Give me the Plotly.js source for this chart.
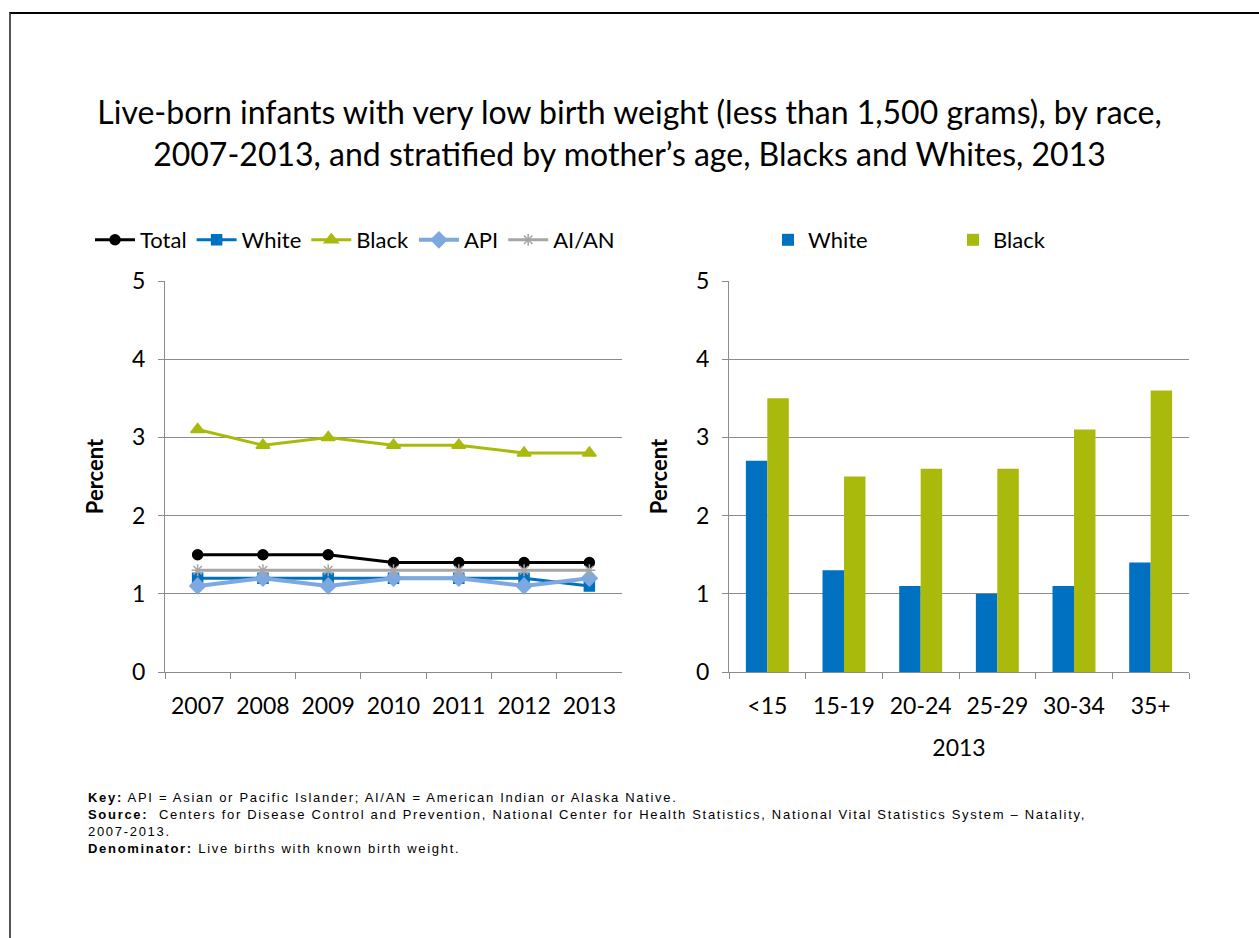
<!DOCTYPE html>
<html>
<head>
<meta charset="utf-8">
<script src="https://cdn.plot.ly/plotly-3.0.1.min.js"></script>
<style>
  html, body { margin: 0; padding: 0; background: #fff; }
  #wrap { position: relative; width: 1259px; height: 938px; overflow: hidden; }
  #chart { position: absolute; left: 0; top: 0; width: 1259px; height: 938px; }
  #frame { position: absolute; left: 9px; top: 12px; width: 1260px; height: 940px;
           border-top: 2px solid #000; border-left: 2px solid #555; pointer-events: none; }
  #chart .annotation-text { letter-spacing: 1.7px; }
</style>
</head>
<body>
<div id="wrap"><div id="chart"></div><div id="frame"></div></div>
<script>
// ---- data ----
const years = ["2007", "2008", "2009", "2010", "2011", "2012", "2013"];
const totalVals = [1.5, 1.5, 1.5, 1.4, 1.4, 1.4, 1.4];
const whiteVals = [1.2, 1.2, 1.2, 1.2, 1.2, 1.2, 1.1];
const blackVals = [3.1, 2.9, 3.0, 2.9, 2.9, 2.8, 2.8];
const apiVals   = [1.1, 1.2, 1.1, 1.2, 1.2, 1.1, 1.2];
const aianVals  = [1.3, 1.3, 1.3, 1.3, 1.3, 1.3, 1.3];

const ageGroups = ["<15", "15-19", "20-24", "25-29", "30-34", "35+"];
const whiteAge = [2.7, 1.3, 1.1, 1.0, 1.1, 1.4];
const blackAge = [3.5, 2.5, 2.6, 2.6, 3.1, 3.6];

const FONT = "Lato, 'Open Sans', sans-serif";
const C_WHITE = "#0070C0", C_BLACK = "#A9BA0C", C_API = "#7DA8E0", C_AIAN = "#A6A6A6";

function line(name, y, color, symbol, size, width) {
  return {
    type: "scatter", mode: "lines+markers", name: name, x: years, y: y,
    xaxis: "x", yaxis: "y", legend: "legend",
    line: { color: color, width: width },
    marker: { symbol: symbol, size: size, color: color, line: { color: color, width: 1.5 } }
  };
}

const traces = [
  line("Total", totalVals, "#000000", "circle", 10, 3),
  line("White", whiteVals, C_WHITE, "square", 10, 3),
  line("Black", blackVals, C_BLACK, "triangle-up", 12, 3),
  line("API", apiVals, C_API, "diamond", 12, 4),
  line("AI/AN", aianVals, C_AIAN, "asterisk-open", 10, 3),
  { type: "bar", name: "White", x: ageGroups, y: whiteAge, xaxis: "x2", yaxis: "y2",
    legend: "legend2", marker: { color: C_WHITE } },
  { type: "bar", name: "Black", x: ageGroups, y: blackAge, xaxis: "x2", yaxis: "y2",
    legend: "legend2", marker: { color: C_BLACK } }
];

const W = 1259, H = 938;
const px = v => v / W, py = v => 1 - v / H;
const GRID = "#8C8C8C";
const TICKSIZE = 23;

const yax = (anchor, domain) => ({
  domain: domain, anchor: anchor, range: [0, 5], dtick: 1, tick0: 0,
  showgrid: true, gridcolor: GRID, gridwidth: 1,
  showline: true, linecolor: GRID, linewidth: 1,
  ticks: "outside", ticklen: 6, tickcolor: GRID, ticklabelstandoff: 8,
  zeroline: false, fixedrange: true,
  tickfont: { family: FONT, size: TICKSIZE, color: "#000" },
  title: { text: "<b>Percent</b>", font: { family: FONT, size: 22, color: "#000" }, standoff: 22 }
});

const xax = (anchor, domain, n, extra) => Object.assign({
  domain: domain, anchor: anchor, type: "category", range: [-0.5, n - 0.5],
  showgrid: false, showline: true, linecolor: GRID, linewidth: 1,
  ticks: "outside", ticklen: 6, tickcolor: GRID, tickson: "boundaries",
  ticklabelstandoff: 13, fixedrange: true,
  tickfont: { family: FONT, size: TICKSIZE, color: "#000" }
}, extra || {});

const note = (y, html) => ({
  xref: "paper", yref: "paper", x: px(86), y: py(y), xanchor: "left", yanchor: "middle",
  showarrow: false, align: "left", text: html,
  font: { family: "'Liberation Sans', Arial, sans-serif", size: 13, color: "#000" }
});

const layout = {
  width: W, height: H,
  margin: { l: 0, r: 0, t: 0, b: 0 },
  paper_bgcolor: "#fff", plot_bgcolor: "#fff",
  font: { family: FONT, color: "#000" },
  title: {
    text: "Live-born infants with very low birth weight (less than 1,500 grams), by race,<br>2007-2013, and stratified by mother\u2019s age, Blacks and Whites, 2013",
    font: { family: FONT, size: 32, color: "#000" },
    x: 0.5, xanchor: "center", y: py(124), yanchor: "middle"
  },
  showlegend: true,
  barmode: "group", bargap: 0.44, bargroupgap: 0,
  xaxis: xax("y", [px(165), px(622)], years.length),
  yaxis: yax("x", [py(672), py(281)]),
  xaxis2: xax("y2", [px(729), px(1189)], ageGroups.length,
    { title: { text: "2013", font: { family: FONT, size: TICKSIZE, color: "#000" }, standoff: 22 } }),
  yaxis2: yax("x2", [py(672), py(281)]),
  legend: {
    orientation: "h", x: px(90), y: py(240), xanchor: "left", yanchor: "middle",
    font: { family: FONT, size: 22, color: "#000" }, bgcolor: "rgba(0,0,0,0)",
    itemwidth: 40, tracegroupgap: 0
  },
  legend2: {
    orientation: "h", x: px(768), y: py(240), xanchor: "left", yanchor: "middle",
    font: { family: FONT, size: 22, color: "#000" }, bgcolor: "rgba(0,0,0,0)",
    entrywidth: 140, entrywidthmode: "pixels", itemwidth: 30
  },
  annotations: [
    note(797, "<b>Key:</b> API = Asian or Pacific Islander; AI/AN = American Indian or Alaska Native."),
    note(814, "<b>Source:</b>  Centers for Disease Control and Prevention, National Center for Health Statistics, National Vital Statistics System \u2013 Natality,"),
    note(831, "2007-2013."),
    note(848, "<b>Denominator:</b> Live births with known birth weight.")
  ]
};

Plotly.newPlot("chart", traces, layout, { displayModeBar: false, staticPlot: true });
</script>
</body>
</html>
